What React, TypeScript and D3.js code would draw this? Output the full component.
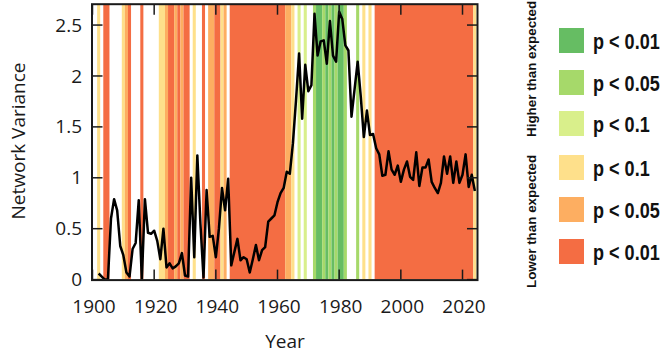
import React, { useRef, useEffect } from 'react'
import * as d3 from 'd3'

// yearly network variance, first value is 1902
const firstYear = 1902
const variance = [
  0.06, 0.03, 0.0, 0.0, 0.6, 0.79, 0.68, 0.33, 0.24, 0.07,
  0.03, 0.3, 0.36, 0.78, 0.0, 0.79, 0.46, 0.45, 0.48, 0.38,
  0.2, 0.5, 0.12, 0.16, 0.11, 0.13, 0.16, 0.26, 0.04, 0.03,
  1.0, 0.22, 1.22, 0.55, 0.02, 0.88, 0.42, 0.43, 0.22, 0.5,
  0.9, 0.68, 0.99, 0.14, 0.27, 0.4, 0.19, 0.22, 0.2, 0.07,
  0.2, 0.34, 0.19, 0.29, 0.32, 0.57, 0.6, 0.63, 0.76, 0.85,
  0.9, 1.06, 1.04, 1.34, 1.76, 2.22, 1.58, 2.11, 1.85, 1.91,
  2.61, 2.2, 2.34, 2.35, 2.12, 2.54, 2.2, 2.14, 2.63, 2.56,
  2.3, 2.25, 1.6, 1.87, 2.14, 1.8, 1.4, 1.66, 1.42, 1.43,
  1.29, 1.23, 1.02, 1.03, 1.26, 1.08, 1.03, 1.12, 0.96, 1.08,
  1.16, 1.01, 0.98, 1.25, 0.92, 1.1, 1.1, 1.18, 0.96, 0.9,
  0.85, 0.95, 1.21, 1.04, 1.21, 0.95, 1.16, 0.95, 1.03, 1.23,
  0.91, 1.03, 0.87,
]

// significance level per year from 1900:
// 0 none, 1-3 lower (p<0.01, p<0.05, p<0.1), 4-6 higher (p<0.1, p<0.05, p<0.01)
const bandFirstYear = 1900
const bandLevels = [
  0, 0, 3, 0, 1, 1, 0, 0, 0, 0,
  3, 2, 1, 0, 0, 0, 1, 0, 0, 0,
  0, 0, 3, 3, 2, 1, 1, 2, 1, 2,
  1, 1, 0, 3, 0, 0, 1, 0, 2, 2,
  1, 1, 3, 2, 0, 1, 1, 1, 1, 1,
  1, 1, 1, 1, 1, 1, 1, 1, 1, 1,
  1, 1, 1, 2, 2, 3, 0, 4, 0, 4,
  0, 0, 5, 6, 6, 5, 6, 5, 6, 5,
  6, 6, 5, 0, 0, 0, 5, 0, 3, 0,
  3, 0, 1, 1, 1, 1, 1, 1, 1, 1,
  1, 1, 1, 1, 1, 1, 1, 1, 1, 1,
  1, 1, 1, 1, 1, 1, 1, 1, 1, 1,
  1, 1, 1, 1, 3,
]

const levelColors = ['none', '#f46d43', '#fdae61', '#fee08b', '#d9ef8b', '#a6d96a', '#66bd63']

const xTicks = [1900, 1920, 1940, 1960, 1980, 2000, 2020]
const yTicks = [0, 0.5, 1, 1.5, 2, 2.5]

const legendLevels = [6, 5, 4, 3, 2, 1]
const legendLabels = ['p < 0.01', 'p < 0.05', 'p < 0.1', 'p < 0.1', 'p < 0.05', 'p < 0.01']
const legendTops = [28, 70, 111, 155, 197, 239]
const groupLabels = ['Higher than expected', 'Lower than expected']

function NetworkVarianceChart() {
  const chartRef = useRef(null)

  useEffect(() => {
    const width = 661
    const height = 353
    const left = 92.5
    const right = 477
    const top = 4.7
    const bottom = 279.6
    const axisFont = '"Open Sans", "Noto Sans", sans-serif'
    const ink = '#1a1a1a'

    const container = d3.select(chartRef.current)
    container.html('')

    const svg = container.append('svg')
      .attr('width', width)
      .attr('height', height)
      .style('display', 'block')

    const x = d3.scaleLinear().domain([1900, 2024.7]).range([left, right])
    const y = d3.scaleLinear().domain([0, 2.7]).range([bottom, top])

    svg.append('defs').append('clipPath')
      .attr('id', 'plot-clip')
      .append('rect')
      .attr('x', left)
      .attr('y', top - 1)
      .attr('width', right - left)
      .attr('height', bottom - top + 1)

    const plot = svg.append('g').attr('clip-path', 'url(#plot-clip)')

    // merge consecutive years with the same level so there are no seams
    const runs = []
    bandLevels.forEach((level, i) => {
      const year = bandFirstYear + i
      const last = runs[runs.length - 1]
      if (last && last.level === level) last.end = year
      else runs.push({ start: year, end: year, level })
    })

    plot.selectAll('.band')
      .data(runs.filter(d => d.level > 0))
      .enter()
      .append('rect')
      .attr('class', 'band')
      .attr('x', d => x(d.start - 0.5))
      .attr('width', d => x(d.end + 0.5) - x(d.start - 0.5))
      .attr('y', top - 1)
      .attr('height', bottom - top + 1)
      .attr('fill', d => levelColors[d.level])

    const points = variance.map((v, i) => ({ year: firstYear + i, value: v }))
    const line = d3.line()
      .x(d => x(d.year))
      .y(d => y(d.value))

    plot.append('path')
      .datum(points)
      .attr('d', line)
      .attr('fill', 'none')
      .attr('stroke', '#000')
      .attr('stroke-width', 2.5)
      .attr('stroke-linejoin', 'round')

    // inward ticks on all four sides
    const tickLen = 10
    const ticks = svg.append('g').attr('stroke', ink).attr('stroke-width', 1.5)
    xTicks.forEach(t => {
      ticks.append('line').attr('x1', x(t)).attr('x2', x(t)).attr('y1', bottom).attr('y2', bottom - tickLen)
      ticks.append('line').attr('x1', x(t)).attr('x2', x(t)).attr('y1', top).attr('y2', top + tickLen)
    })
    yTicks.forEach(t => {
      ticks.append('line').attr('x1', left).attr('x2', left + tickLen).attr('y1', y(t)).attr('y2', y(t))
      ticks.append('line').attr('x1', right).attr('x2', right - tickLen).attr('y1', y(t)).attr('y2', y(t))
    })

    svg.append('rect')
      .attr('x', left - 0.5)
      .attr('y', top - 0.5)
      .attr('width', right - left + 1)
      .attr('height', bottom - top + 1)
      .attr('fill', 'none')
      .attr('stroke', ink)
      .attr('stroke-width', 2)

    // tick labels
    svg.append('g')
      .selectAll('text')
      .data(xTicks)
      .enter()
      .append('text')
      .attr('x', d => x(d) + 1.5)
      .attr('y', 313)
      .attr('text-anchor', 'middle')
      .attr('font-family', axisFont)
      .attr('font-size', 19)
      .attr('fill', ink)
      .text(d => d)

    svg.append('g')
      .selectAll('text')
      .data(yTicks)
      .enter()
      .append('text')
      .attr('x', 82)
      .attr('y', d => y(d) + 6.6)
      .attr('text-anchor', 'end')
      .attr('font-family', axisFont)
      .attr('font-size', 19)
      .attr('fill', ink)
      .text(d => d)

    svg.append('text')
      .attr('x', 285)
      .attr('y', 348)
      .attr('text-anchor', 'middle')
      .attr('font-family', axisFont)
      .attr('font-size', 19)
      .attr('fill', ink)
      .text('Year')

    svg.append('text')
      .attr('transform', 'translate(25,141) rotate(-90)')
      .attr('text-anchor', 'middle')
      .attr('font-family', axisFont)
      .attr('font-size', 19)
      .attr('fill', ink)
      .text('Network Variance')

    // legend
    const legendFont = '"Liberation Sans", Arial, sans-serif'
    const legend = svg.append('g')
    legendLevels.forEach((level, i) => {
      legend.append('rect')
        .attr('x', 559)
        .attr('y', legendTops[i])
        .attr('width', 25)
        .attr('height', 25)
        .attr('fill', levelColors[level])
      legend.append('text')
        .attr('transform', `translate(593,${legendTops[i] + 20.5}) scale(0.84,1)`)
        .attr('font-family', legendFont)
        .attr('font-weight', 'bold')
        .attr('font-size', 21.5)
        .attr('fill', '#111')
        .text(legendLabels[i])
    })

    const groupBottoms = [137, 288]
    groupLabels.forEach((label, i) => {
      legend.append('text')
        .attr('transform', `translate(536,${groupBottoms[i]}) rotate(-90)`)
        .attr('text-anchor', 'start')
        .attr('font-family', legendFont)
        .attr('font-weight', 'bold')
        .attr('font-size', 13.4)
        .attr('fill', '#111')
        .text(label)
    })

    return () => {
      svg.remove()
    }
  }, [])

  return (
    <div ref={chartRef} style={{ position: 'absolute', left: 0, top: 0, width: '661px', height: '353px' }}></div>
  )
}

export default function App() {
  return <NetworkVarianceChart />
}
